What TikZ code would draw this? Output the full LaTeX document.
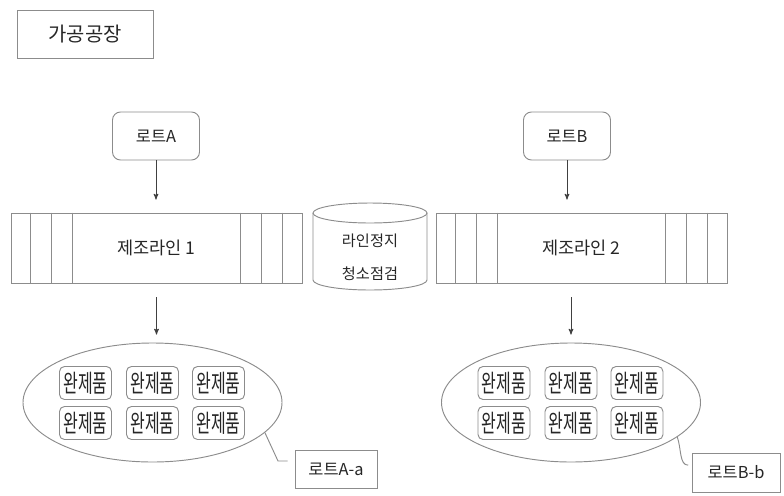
\documentclass[tikz,border=0pt]{standalone}
\usepackage{fontspec}
\setmainfont{Noto Sans CJK KR}
\newfontfamily\narrowfont{Noto Sans CJK KR}[FakeStretch=0.65]
\usetikzlibrary{positioning}
\usetikzlibrary{arrows}
\usetikzlibrary{shapes.geometric}
\tikzset{every node/.style={text=black!85}, % Dark grey text everywhere
framed/.style={ % Thin grey outline for every box
draw=black!45,
line width=0.8pt,
inner sep=0pt},
titlebox/.style={framed, minimum width=4.08cm, minimum height=1.44cm, font=\fontsize{17}{20}\selectfont},
lotbox/.style={framed, rounded corners=0.24cm, minimum width=2.61cm, minimum height=1.44cm, font=\fontsize{14}{16}\selectfont},
linebox/.style={framed, minimum width=8.73cm, minimum height=2.1cm, font=\fontsize{15}{18}\selectfont},
tanktext/.style={align=center, font=\fontsize{13}{16}\selectfont},
lotset/.style={framed, ellipse, minimum width=7.77cm, minimum height=3.57cm},
item/.style={framed, rounded corners=0.15cm, minimum width=1.56cm, minimum height=0.99cm, font=\narrowfont\fontsize{21}{22}\selectfont},
tag/.style={framed, minimum height=1.14cm, font=\fontsize{14}{16}\selectfont},
feed/.style={ % Downward flow arrows
draw=black!75,
->,>=stealth',
line width=0.8pt},
leader/.style={draw=black!45, line width=0.8pt}}

\begin{document}
\begin{tikzpicture}[x=0.03cm, y=-0.03cm] % one unit is one pixel of the sketch
				\useasboundingbox (0,0) rectangle (784,495);

				\node[titlebox] (plant) at (85,34) {가공공장};

				\node[lotbox] (lotA) at (156,136) {로트A};
				\node[lotbox] (lotB) at (567,136) {로트B};

				\node[linebox] (line1) at (156.5,248) {제조라인 1};
				\node[linebox] (line2) at (581.5,248) {제조라인 2};

				% the tank between the two lines
				\draw[leader] (370,213) ellipse [x radius=1.71cm, y radius=0.3cm];
				\draw[leader] (313,213) -- (313,280) arc[start angle=180, end angle=360, x radius=1.71cm, y radius=0.3cm] -- (427,213);
				\node[tanktext] (tank) at (370,257) {라인정지\\[12pt]청소점검};

				% stripes at both ends of each line
				\foreach \l in {line1,line2}
				\foreach \d in {20,41,62} {
					\draw[leader] ([xshift=\d*0.03cm]\l.north west) -- ([xshift=\d*0.03cm]\l.south west);
					\draw[leader] ([xshift=-\d*0.03cm]\l.north east) -- ([xshift=-\d*0.03cm]\l.south east);
				}

				\node[lotset] (set1) at (152.5,402.5) {};
				\node[lotset] (set2) at (571,402.5) {};

				\foreach \s in {1,2}
				\foreach \col [count=\c] in {-67,0,66}
				\foreach \row [count=\r] in {-19.5,20.5}
					\node[item] (item\s\r\c) at ([shift={(\col,\row)}]set\s) {완제품};

				\node[tag, minimum width=2.46cm] (tagA) at (336,469) {로트A-a};
				\node[tag, minimum width=2.64cm, minimum height=1.17cm] (tagB) at (736,472.5) {로트B-b};

				\draw[feed, shorten >=0.39cm] (lotA.south) -- (lotA.south |- line1.north);
				\draw[feed, shorten >=0.39cm] (lotB.south) -- (lotB.south |- line2.north);
				\draw[feed, shorten <=0.42cm, shorten >=0.24cm] (line1.south) -- (line1.south |- set1.north);
				\draw[feed, shorten <=0.42cm, shorten >=0.24cm] (set2.north |- line2.south) -- (set2.north);

				\draw[leader, shorten >=0.21cm] (set1.-15) -- (278,461) -- ([yshift=0.24cm]tagA.west);
				\draw[leader, shorten >=0.1cm] (set2.-18) to[out=-70,in=180] ([yshift=0.22cm]tagB.west);
			\end{tikzpicture}
\end{document}
